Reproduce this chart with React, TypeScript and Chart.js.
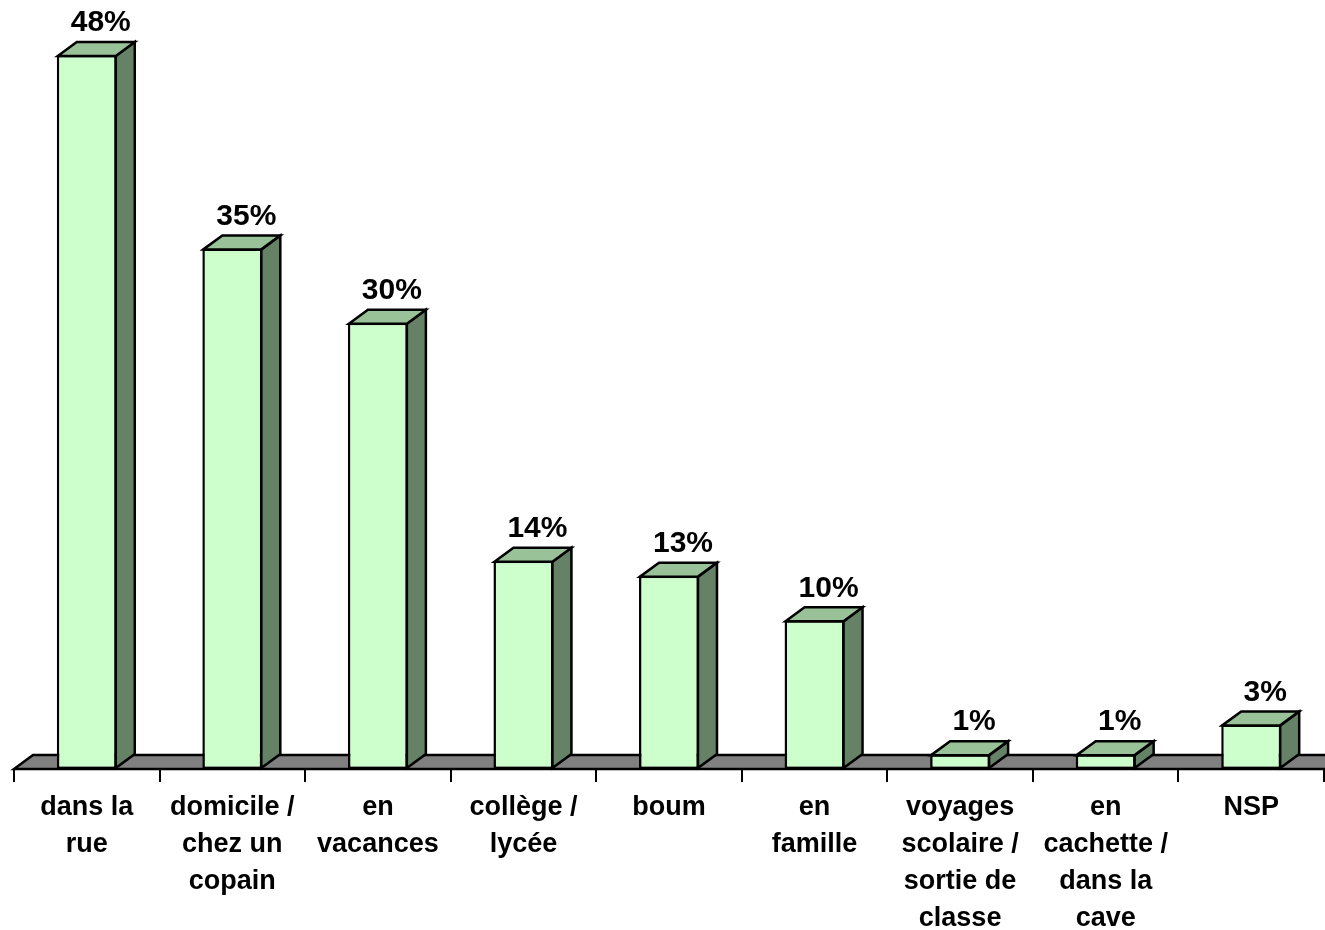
import React, { useEffect, useRef } from 'react';
import { Chart, registerables } from 'chart.js';

Chart.register(...registerables);

// ---- Data ----
const categories: string[][] = [
  ['dans la', 'rue'],
  ['domicile /', 'chez un', 'copain'],
  ['en', 'vacances'],
  ['collège /', 'lycée'],
  ['boum'],
  ['en', 'famille'],
  ['voyages', 'scolaire /', 'sortie de', 'classe'],
  ['en', 'cachette /', 'dans la', 'cave'],
  ['NSP'],
];
const values: number[] = [48, 35, 30, 14, 13, 10, 1, 1, 3];
const valueLabels: string[] = ['48%', '35%', '30%', '14%', '13%', '10%', '1%', '1%', '3%'];

// ---- Style ----
const FRONT = '#CCFFCC';
const TOP = '#99C299';
const SIDE = '#668266';
const FLOOR = '#808080';
const DX = 19;
const DY = -14;
const FONT = 'Arial, "Liberation Sans", sans-serif';

function poly(ctx: CanvasRenderingContext2D, pts: number[][], fill: string) {
  ctx.beginPath();
  ctx.moveTo(pts[0][0], pts[0][1]);
  for (let i = 1; i < pts.length; i++) ctx.lineTo(pts[i][0], pts[i][1]);
  ctx.closePath();
  ctx.fillStyle = fill;
  ctx.fill();
  ctx.lineWidth = 2.5;
  ctx.strokeStyle = '#000';
  ctx.lineJoin = 'miter';
  ctx.stroke();
}

const threeD = {
  id: 'threeD',
  beforeDatasetsDraw(chart: any) {
    const { ctx, chartArea } = chart;
    const y0 = chart.scales.y.getPixelForValue(0);
    ctx.save();
    poly(
      ctx,
      [
        [chartArea.left, y0],
        [chartArea.left + DX, y0 + DY],
        [chart.width + 50, y0 + DY],
        [chart.width + 50, y0],
      ],
      FLOOR
    );
    ctx.restore();
  },
  afterDatasetsDraw(chart: any) {
    const { ctx } = chart;
    const meta = chart.getDatasetMeta(0);
    ctx.save();
    meta.data.forEach((bar: any, i: number) => {
      const { x, y, base, width } = bar.getProps(['x', 'y', 'base', 'width'], true);
      const l = x - width / 2 + 1;
      const r = x + width / 2 - 1;
      const t = y + 1;
      const b = base - 1;
      poly(ctx, [[r, t], [r + DX, t + DY], [r + DX, b + DY], [r, b]], SIDE);
      poly(ctx, [[l, t], [l + DX, t + DY], [r + DX, t + DY], [r, t]], TOP);
      ctx.fillStyle = '#000';
      ctx.font = `bold 30px ${FONT}`;
      ctx.textAlign = 'center';
      ctx.textBaseline = 'middle';
      ctx.fillText(valueLabels[i], x + 14, y - 32);
    });
    ctx.restore();
  },
};

export default function App() {
  const ref = useRef<HTMLCanvasElement | null>(null);
  useEffect(() => {
    if (!ref.current) return;
    const chart = new Chart(ref.current, {
      type: 'bar',
      data: {
        labels: categories,
        datasets: [
          {
            data: values,
            backgroundColor: FRONT,
            borderColor: '#000',
            borderWidth: 2.5,
            borderSkipped: false,
            categoryPercentage: 1,
            barPercentage: 0.412,
          },
        ],
      },
      options: {
        responsive: false,
        animation: false,
        devicePixelRatio: 1,
        layout: { padding: { left: 14, right: 1, top: 55, bottom: 0 } },
        plugins: {
          legend: { display: false },
          tooltip: { enabled: false },
        },
        scales: {
          y: { display: false, min: 0, max: 48 },
          x: {
            offset: true,
            grid: {
              display: true,
              offset: true,
              drawOnChartArea: false,
              drawTicks: true,
              tickLength: 13,
              color: '#000',
              lineWidth: 2,
            },
            border: { display: false },
            ticks: {
              color: '#000',
              padding: 7,
              maxRotation: 0,
              autoSkip: false,
              font: { family: FONT, size: 27, weight: 'bold', lineHeight: '37px' } as any,
            },
            afterFit: (scale: any) => {
              scale.height = 161;
            },
          },
        },
      },
      plugins: [threeD],
    });
    return () => chart.destroy();
  }, []);
  return (
    <div style={{ position: 'absolute', left: 0, top: 0 }}>
      <canvas ref={ref} width={1325} height={930} style={{ display: 'block' }} />
    </div>
  );
}
